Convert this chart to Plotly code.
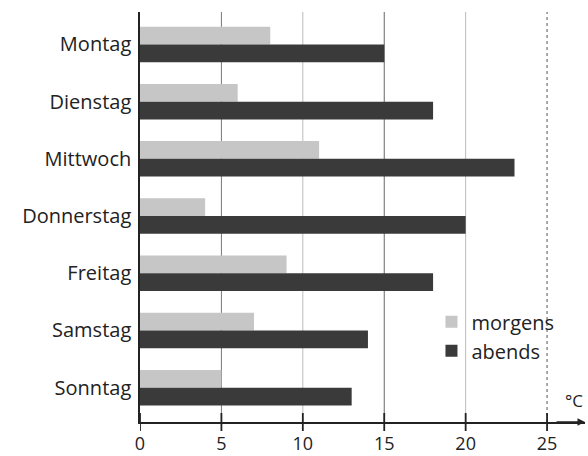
import plotly.graph_objects as go

days = ["Montag", "Dienstag", "Mittwoch", "Donnerstag", "Freitag", "Samstag", "Sonntag"]
morgens = [8, 6, 11, 4, 9, 7, 5]
abends = [15, 18, 23, 20, 18, 14, 13]
x_ticks = [0, 5, 10, 15, 20, 25]
grid_lines = [5, 10, 15, 20, 25]

FONT = "Open Sans"

fig = go.Figure()
fig.add_trace(go.Bar(y=days, x=morgens, name="morgens", orientation="h",
                     marker=dict(color="#c6c6c6", line=dict(width=0))))
fig.add_trace(go.Bar(y=days, x=abends, name="abends", orientation="h",
                     marker=dict(color="#3a3a3a", line=dict(width=0))))

grid_styles = {5: ("#777777", "solid"), 10: ("#bbbbbb", "solid"), 15: ("#666666", "solid"),
               20: ("#bbbbbb", "solid"), 25: ("#555555", "dot")}
for g in grid_lines:
    c, d = grid_styles[g]
    fig.add_shape(type="line", xref="x", yref="paper", x0=g, x1=g, y0=0, y1=1,
                  line=dict(color=c, width=1, dash=d), layer="below")
# crossing tick marks
for t in x_ticks:
    fig.add_shape(type="line", xref="x", yref="paper", x0=t, x1=t,
                  ysizemode="pixel", yanchor=0, y0=-9, y1=9,
                  line=dict(color="#222222", width=1.8))

fig.add_annotation(xref="paper", yref="paper", x=1, y=0, ax=-30, ay=0,
                   showarrow=True, arrowhead=2, arrowsize=1, arrowwidth=1.5,
                   arrowcolor="#222222", text="")
fig.add_annotation(xref="paper", yref="paper", x=1.0, y=0.02, text="°C",
                   showarrow=False, xanchor="right", yanchor="bottom",
                   font=dict(family=FONT, size=17, color="#222222"))

fig.update_layout(
    width=588, height=456,
    margin=dict(l=140, r=3, t=12, b=34),
    paper_bgcolor="white", plot_bgcolor="white",
    barmode="group", bargap=0.38, bargroupgap=0.0,
    font=dict(family=FONT, size=20, color="#222222"),
    legend=dict(x=0.655, y=0.292, xanchor="left", yanchor="top",
                bgcolor="rgba(0,0,0,0)", font=dict(size=20),
                itemwidth=30, tracegroupgap=0),
    xaxis=dict(range=[0, 27.33], tickvals=x_ticks, showgrid=False, zeroline=False,
               showline=True, linecolor="#222222", linewidth=1.5,
               ticks="", ticklabelstandoff=5, tickfont=dict(size=18),
               automargin=False),
    yaxis=dict(categoryorder="array", categoryarray=days, range=[6.60, -0.567],
               showline=True, linecolor="#222222", linewidth=1.5, showgrid=False,
               ticks="", ticklabelstandoff=3, tickfont=dict(size=20),
               automargin=False),
)

fig.write_html("out.html", config={"displayModeBar": False},
               post_script="document.body.style.margin='0';document.body.style.overflow='hidden';")
